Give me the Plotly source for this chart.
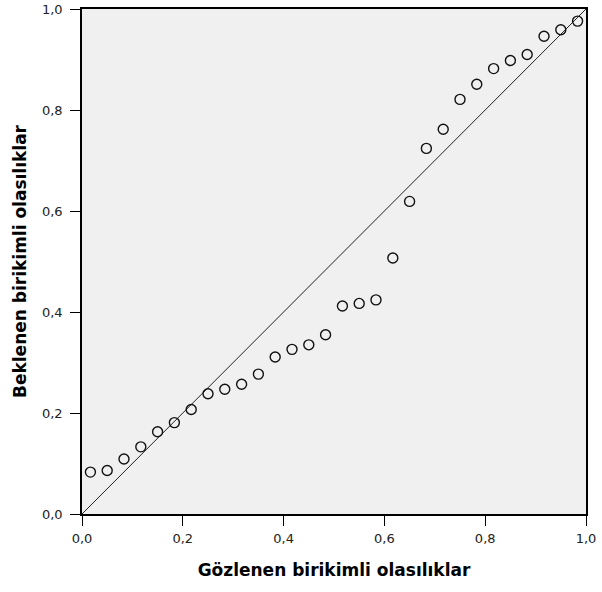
import plotly.graph_objects as go

observed = [0.0167, 0.05, 0.0833, 0.1167, 0.15, 0.1833, 0.2167, 0.25, 0.2833, 0.3167,
            0.35, 0.3833, 0.4167, 0.45, 0.4833, 0.5167, 0.55, 0.5833, 0.6167, 0.65,
            0.6833, 0.7167, 0.75, 0.7833, 0.8167, 0.85, 0.8833, 0.9167, 0.95, 0.9833]
expected = [0.083, 0.086, 0.109, 0.133, 0.163, 0.181, 0.207, 0.238, 0.247, 0.257,
            0.277, 0.311, 0.326, 0.335, 0.355, 0.412, 0.417, 0.424, 0.507, 0.619,
            0.724, 0.762, 0.821, 0.851, 0.882, 0.898, 0.910, 0.946, 0.959, 0.976]
ref_line = [0.0, 1.0]
tick_vals = [0.0, 0.2, 0.4, 0.6, 0.8, 1.0]
x_title = "Gözlenen birikimli olasılıklar"
y_title = "Beklenen birikimli olasılıklar"

fig = go.Figure()
fig.add_trace(go.Scatter(x=ref_line, y=ref_line, mode="lines",
                         line=dict(color="#222222", width=1), showlegend=False,
                         hoverinfo="skip"))
fig.add_trace(go.Scatter(x=observed, y=expected, mode="markers",
                         marker=dict(symbol="circle-open", size=10, color="#111111",
                                     line=dict(width=1.4, color="#111111")),
                         showlegend=False))

axis_common = dict(range=[0, 1], tickvals=tick_vals, tickformat=".1f",
                   showgrid=False, zeroline=False, showline=True, mirror=True,
                   linecolor="black", linewidth=1.5, ticks="outside", ticklen=10,
                   tickwidth=1.3, tickcolor="black", automargin=False,
                   tickfont=dict(family="DejaVu Sans", size=13, color="#222222"))

fig.update_layout(
    width=602, height=592,
    margin=dict(l=82, r=16, t=9, b=78),
    paper_bgcolor="white", plot_bgcolor="#f0f0f0",
    separators=", ",
    xaxis=dict(**axis_common, ticklabelstandoff=2,
               title=dict(text=x_title, standoff=19,
                          font=dict(family="DejaVu Sans", size=17, color="black",
                                    weight="bold"))),
    yaxis=dict(**axis_common, ticklabelstandoff=5,
               title=dict(text=y_title, standoff=11,
                          font=dict(family="DejaVu Sans", size=17, color="black",
                                    weight="bold"))),
)

fig.write_html("out.html")
